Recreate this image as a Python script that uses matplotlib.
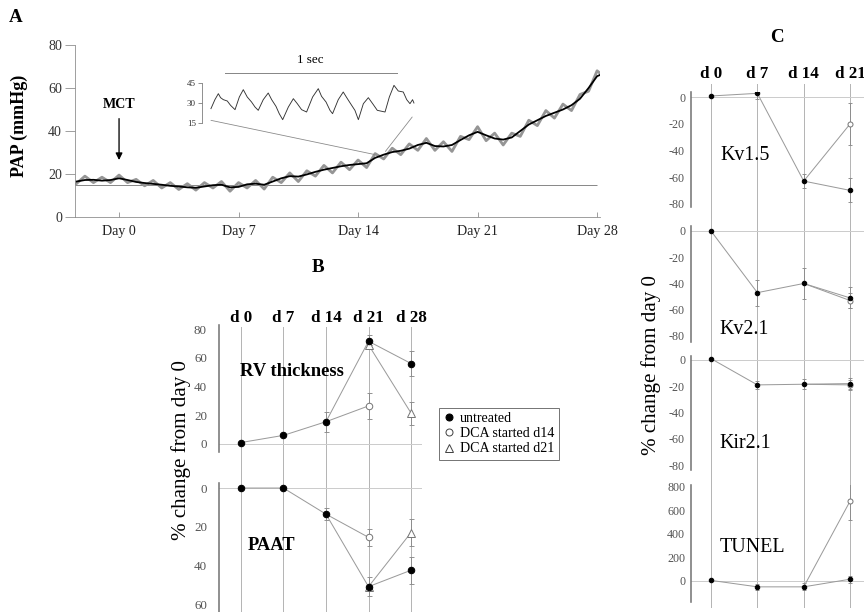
import matplotlib
matplotlib.use('Agg')
import matplotlib.pyplot as plt
import matplotlib.transforms as mtransforms
from matplotlib.patches import ConnectionPatch
from matplotlib.lines import Line2D

plt.rcParams['font.family'] = ['Liberation Serif', 'DejaVu Serif']
plt.rcParams['axes.unicode_minus'] = False

# ---------------- data ----------------
# Panel A: PAP trace (mmHg) versus day
pap_days = [-2.5, -2, -1.5, -1, -0.5, 0, 0.5, 1, 1.5, 2, 2.5, 3, 3.5, 4, 4.5, 5, 5.5, 6, 6.5,
            7, 7.5, 8, 8.5, 9, 9.5, 10, 10.5, 11, 11.5, 12, 12.5, 13, 13.5, 14, 14.5, 15, 15.5,
            16, 16.5, 17, 17.5, 18, 18.5, 19, 19.5, 20, 20.5, 21, 21.5, 22, 22.5, 23, 23.5, 24,
            24.5, 25, 25.5, 26, 26.5, 27, 27.5, 28, 28.3]
pap_mean = [16.5, 17.2, 17.3, 16.9, 17.2, 18.0, 17.2, 16.3, 15.8, 15.4, 15.0, 14.5, 14.2, 13.8,
            13.6, 14.2, 14.8, 15.0, 13.8, 14.0, 15.2, 15.5, 15.0, 16.5, 18.0, 19.0, 18.8, 19.8,
            21.0, 22.0, 22.8, 23.6, 24.2, 24.6, 25.0, 27.5, 29.0, 30.2, 30.8, 31.8, 33.5, 34.5,
            33.0, 32.8, 33.5, 35.8, 38.0, 39.6, 38.0, 36.5, 36.0, 37.0, 40.0, 43.0, 45.0, 47.0,
            48.5, 50.0, 52.0, 55.0, 60.0, 65.5, 66.5]
pap_raw = [15.5, 19.0, 16.0, 18.5, 16.0, 19.5, 16.0, 17.5, 14.5, 17.0, 13.5, 16.0, 12.8, 15.5,
           12.5, 16.0, 13.5, 16.5, 12.0, 16.0, 13.5, 17.0, 13.0, 18.5, 16.0, 20.5, 16.5, 21.5,
           19.0, 24.0, 20.5, 25.5, 22.0, 26.5, 23.0, 29.5, 27.0, 32.0, 29.0, 34.0, 31.0, 36.5,
           31.0, 35.0, 30.5, 37.5, 36.0, 42.0, 35.5, 39.0, 33.5, 39.0, 37.5, 45.0, 42.5, 49.5,
           46.0, 52.5, 49.5, 57.0, 58.5, 68.0, 66.0]
pap_baseline = 15
day_ticks = [0, 7, 14, 21, 28]
day_labels = ['Day 0', 'Day 7', 'Day 14', 'Day 21', 'Day 28']

# Inset: 1-second PAP waveform
inset_t = [0.00, 0.023, 0.043, 0.056, 0.072, 0.095, 0.114, 0.140, 0.165, 0.188, 0.211, 0.236,
           0.256, 0.275, 0.304, 0.333, 0.353, 0.378, 0.397, 0.417, 0.450, 0.479, 0.502, 0.527,
           0.556, 0.591, 0.624, 0.643, 0.669, 0.692, 0.707, 0.740, 0.769, 0.793, 0.818, 0.837,
           0.857, 0.886, 0.915, 0.940, 0.967, 1.012, 1.037, 1.064, 1.089, 1.118, 1.138, 1.157,
           1.172, 1.180]
inset_p = [25.75, 32.5, 37.0, 34.0, 32.5, 31.5, 28.25, 25.0, 34.5, 40.0, 34.5, 30.75, 27.0, 24.5,
           32.5, 37.5, 32.5, 27.5, 22.0, 17.5, 27.0, 33.25, 29.5, 25.0, 23.25, 34.5, 40.75, 35.0,
           30.75, 24.5, 22.0, 32.5, 38.25, 33.25, 28.25, 24.5, 17.5, 29.5, 34.0, 29.5, 24.5, 23.25,
           34.5, 43.25, 39.0, 38.25, 32.5, 29.5, 32.5, 30.0]
inset_ticks = [15, 30, 45]

# Panel B
b_days = [0, 7, 14, 21, 28]
b_labels = ['d 0', 'd 7', 'd 14', 'd 21', 'd 28']
rv_untreated = [1, 6, 15.5, 71.5, 56]
rv_untreated_err = [0, 0, 7, 4, 9]
rv_dca14_days = [14, 21]
rv_dca14 = [15.5, 26.5]
rv_dca14_err = [0, 9]
rv_dca21_days = [21, 28]
rv_dca21 = [69, 21.5]
rv_dca21_err = [0, 8]
paat_untreated = [0, 0, 13.5, 51, 42.5]
paat_untreated_err = [0, 0, 3, 5, 7]
paat_dca14_days = [14, 21]
paat_dca14 = [13.5, 25.5]
paat_dca14_err = [0, 4.5]
paat_dca21_days = [21, 28]
paat_dca21 = [51, 23]
paat_dca21_err = [0, 7]
legend_labels = ['untreated', 'DCA started d14', 'DCA started d21']

# Panel C
c_days = [0, 7, 14, 21]
c_labels = ['d 0', 'd 7', 'd 14', 'd 21']
c_names = ['Kv1.5', 'Kv2.1', 'Kir2.1', 'TUNEL']
c_untreated = [[1, 3, -63, -70],
               [0, -47, -40, -51],
               [1, -19, -18.5, -18],
               [5, -50, -50, 15]]
c_untreated_err = [[0, 4, 5, 9],
                   [0, 10, 12, 8],
                   [0, 3, 4, 4],
                   [0, 25, 30, 30]]
c_dca_days = [14, 21]
c_dca = [[-63, -20],
         [-40, -53],
         [-18.5, -19],
         [-50, 680]]
c_dca_err = [[0, 16],
             [0, 6],
             [0, 4],
             [0, 160]]
c_ticks = [[0, -20, -40, -60, -80],
           [0, -20, -40, -60, -80],
           [0, -20, -40, -60, -80],
           [0, 200, 400, 600, 800]]

# ---------------- layout helpers ----------------
W, H = 864, 612
fig = plt.figure(figsize=(W / 72, H / 72), dpi=72)


def box(x0, y0, x1, y1):
    return [x0 / W, 1 - y1 / H, (x1 - x0) / W, (y1 - y0) / H]


GRID = '#b5b5b5'
LINE = '#9a9a9a'
TICKC = '#555555'

# ---------------- Panel A ----------------
fig.text(16 / W, 1 - 18 / H, 'A', fontsize=19, fontweight='bold', ha='center', va='center')
ax = fig.add_axes(box(75, 45, 600, 217))
ax.set_xlim(-2.58, 28.17)
ax.set_ylim(0, 80)
ax.hlines(pap_baseline, -2.58, 28, color='#8a8a8a', lw=1)
ax.plot(pap_days, pap_raw, color='#959595', lw=2.8, solid_joinstyle='round')
ax.plot(pap_days, pap_mean, color='black', lw=1.8, solid_joinstyle='round')
for s in ['top', 'right']:
    ax.spines[s].set_visible(False)
for s in ['left', 'bottom']:
    ax.spines[s].set_color('#8a8a8a')
ax.set_yticks([0, 20, 40, 60, 80])
ax.tick_params(axis='y', direction='out', length=10, width=0.8, color='#8a8a8a',
               labelsize=14, pad=3, labelcolor='#333333')
ax.set_xticks(day_ticks)
ax.set_xticklabels(day_labels)
ax.tick_params(axis='x', direction='in', length=5, width=0.8, color='#8a8a8a',
               labelsize=14, pad=8, labelcolor='#222222')
fig.text(19 / W, 1 - 126 / H, 'PAP (mmHg)', rotation=90, fontsize=18, fontweight='bold',
         ha='center', va='center')
ax.patch.set_alpha(0)
ax.annotate('MCT', xy=(0, 26.5), xytext=(0, 52.5), ha='center', va='center',
            fontsize=14, fontweight='bold',
            arrowprops=dict(arrowstyle='-|>', color='black', lw=1.3, mutation_scale=14,
                            shrinkA=6, shrinkB=0))

# inset
axi = fig.add_axes(box(202, 83, 416, 123))
axi.set_xlim(-0.052, 1.192)
axi.set_ylim(15, 45)
axi.patch.set_alpha(0)
axi.plot(inset_t, inset_p, color='#333333', lw=0.9)
for s in ['top', 'right', 'bottom']:
    axi.spines[s].set_visible(False)
axi.spines['left'].set_color('#777777')
axi.set_xticks([])
axi.set_yticks(inset_ticks)
axi.tick_params(axis='y', length=4, width=0.8, color='#777777', labelsize=9, pad=2,
                labelcolor='#333333')
axi.plot([0.081, 1.081], [52.5, 52.5], color='#888888', lw=1, clip_on=False)
axi.text(0.58, 62, '1 sec', ha='center', va='center', fontsize=13, clip_on=False)
for xa, xb in [((0.0, 17.0), (15.0, 29.0)), ((1.17, 19.5), (15.6, 30.5))]:
    cp = ConnectionPatch(xyA=xa, coordsA=axi.transData, xyB=xb, coordsB=ax.transData,
                         color='#888888', lw=0.8)
    fig.add_artist(cp)

# ---------------- Panel B ----------------
fig.text(318 / W, 1 - 268 / H, 'B', fontsize=19, fontweight='bold', ha='center', va='center')
bx0, bx1 = 219, 422
bxlim = (-3.6, 29.8)
bbg = fig.add_axes(box(bx0, 327, bx1, 612))
bbg.set_xlim(*bxlim)
bbg.set_ylim(0, 1)
bbg.axis('off')
for d, lab in zip(b_days, b_labels):
    bbg.axvline(d, color=GRID, lw=1)
    bbg.text(d, 1.005, lab, ha='center', va='bottom', fontsize=17, fontweight='bold',
             transform=mtransforms.blended_transform_factory(bbg.transData, bbg.transAxes))

mk_f = dict(marker='o', color=LINE, mfc='black', mec='black', ms=6.5, lw=1)
mk_c = dict(marker='o', color=LINE, mfc='white', mec='#777777', ms=6.5, lw=1)
mk_t = dict(marker='^', color=LINE, mfc='white', mec='#777777', ms=7.5, lw=1)
eb = dict(fmt='none', ecolor='#8a8a8a', elinewidth=0.9, capsize=2.5, capthick=0.9)


def style_sub(a, ticks, lsize=13, pad=12):
    for s in ['top', 'right', 'bottom']:
        a.spines[s].set_visible(False)
    a.spines['left'].set_color('#777777')
    a.spines['left'].set_linewidth(1.6)
    a.set_xticks([])
    a.set_yticks(ticks)
    a.tick_params(axis='y', length=0, labelsize=lsize, pad=pad, labelcolor=TICKC)
    a.patch.set_alpha(0)


b1 = fig.add_axes(box(bx0, 325, bx1, 452))
b1.set_xlim(*bxlim)
b1.set_ylim(-5.57, 82.8)
b1.axhline(0, color='#cccccc', lw=1)
b1.errorbar(b_days, rv_untreated, yerr=rv_untreated_err, **eb)
b1.errorbar(rv_dca14_days, rv_dca14, yerr=rv_dca14_err, **eb)
b1.errorbar(rv_dca21_days, rv_dca21, yerr=rv_dca21_err, **eb)
b1.plot(rv_dca21_days, rv_dca21, **mk_t)
b1.plot(rv_dca14_days, rv_dca14, markevery=[1], **mk_c)
b1.plot(b_days, rv_untreated, **mk_f)
style_sub(b1, [0, 20, 40, 60, 80])
fig.text(292 / W, 1 - 371 / H, 'RV thickness', fontsize=18.5, fontweight='bold',
         ha='center', va='center')

b2 = fig.add_axes(box(bx0, 483, bx1, 612))
b2.set_xlim(*bxlim)
b2.set_ylim(64.1, -2.6)
b2.axhline(0, color='#cccccc', lw=1)
b2.errorbar(b_days, paat_untreated, yerr=paat_untreated_err, **eb)
b2.errorbar(paat_dca14_days, paat_dca14, yerr=paat_dca14_err, **eb)
b2.errorbar(paat_dca21_days, paat_dca21, yerr=paat_dca21_err, **eb)
b2.plot(paat_dca21_days, paat_dca21, **mk_t)
b2.plot(paat_dca14_days, paat_dca14, markevery=[1], **mk_c)
b2.plot(b_days, paat_untreated, **mk_f)
style_sub(b2, [0, 20, 40, 60])
fig.text(271 / W, 1 - 546 / H, 'PAAT', fontsize=18.5, fontweight='bold',
         ha='center', va='center')

fig.text(181 / W, 1 - 450 / H, '% change from day 0', rotation=90, fontsize=21,
         ha='center', va='center')

handles = [Line2D([], [], ls='none', marker='o', mfc='black', mec='black', ms=7),
           Line2D([], [], ls='none', marker='o', mfc='white', mec='#444444', ms=7),
           Line2D([], [], ls='none', marker='^', mfc='white', mec='#444444', ms=8)]
leg = fig.legend(handles, legend_labels, loc='upper left',
                 bbox_to_anchor=(439 / W, 1 - 408 / H), fontsize=14, frameon=True,
                 fancybox=False, borderpad=0.3, labelspacing=0.15, handlelength=0.8,
                 handletextpad=0.4, borderaxespad=0)
leg.get_frame().set_edgecolor('#555555')
leg.get_frame().set_linewidth(1)

# ---------------- Panel C ----------------
fig.text(777 / W, 1 - 37 / H, 'C', fontsize=19, fontweight='bold', ha='center', va='center')
cx0, cx1 = 691, 864
cxlim = (-3.02, 23.1)
cbg = fig.add_axes(box(cx0, 84, cx1, 608))
cbg.set_xlim(*cxlim)
cbg.set_ylim(0, 1)
cbg.axis('off')
for d, lab in zip(c_days, c_labels):
    cbg.axvline(d, color=GRID, lw=1)
    cbg.text(d, 1.004, lab, ha='center', va='bottom', fontsize=17, fontweight='bold',
             transform=mtransforms.blended_transform_factory(cbg.transData, cbg.transAxes))

c_boxes = [(92, 207, (-82.5, 4.0)),
           (226, 342, (-84.6, 3.8)),
           (356, 470, (-83.8, 3.0)),
           (485, 602, (-179, 817))]
c_text_pos = [(745, 155), (744, 330), (745, 443), (753, 548)]
ck_f = dict(marker='o', color=LINE, mfc='black', mec='black', ms=4.5, lw=1)
ck_c = dict(marker='o', color=LINE, mfc='white', mec='#777777', ms=5, lw=1)
ceb = dict(fmt='none', ecolor='#8a8a8a', elinewidth=0.9, capsize=2, capthick=0.9)
for i in range(4):
    y0, y1, yl = c_boxes[i]
    ca = fig.add_axes(box(cx0, y0, cx1, y1))
    ca.set_xlim(*cxlim)
    ca.set_ylim(*yl)
    ca.axhline(0, color='#cccccc', lw=1)
    ca.errorbar(c_days, c_untreated[i], yerr=c_untreated_err[i], **ceb)
    ca.errorbar(c_dca_days, c_dca[i], yerr=c_dca_err[i], **ceb)
    ca.plot(c_dca_days, c_dca[i], markevery=[1], **ck_c)
    ca.plot(c_days, c_untreated[i], **ck_f)
    style_sub(ca, c_ticks[i], lsize=12, pad=6)
    tx, ty = c_text_pos[i]
    fig.text(tx / W, 1 - ty / H, c_names[i], fontsize=20, ha='center', va='center')

fig.text(651 / W, 1 - 365 / H, '% change from day 0', rotation=90, fontsize=21,
         ha='center', va='center')

fig.savefig('out.png', dpi=72)
